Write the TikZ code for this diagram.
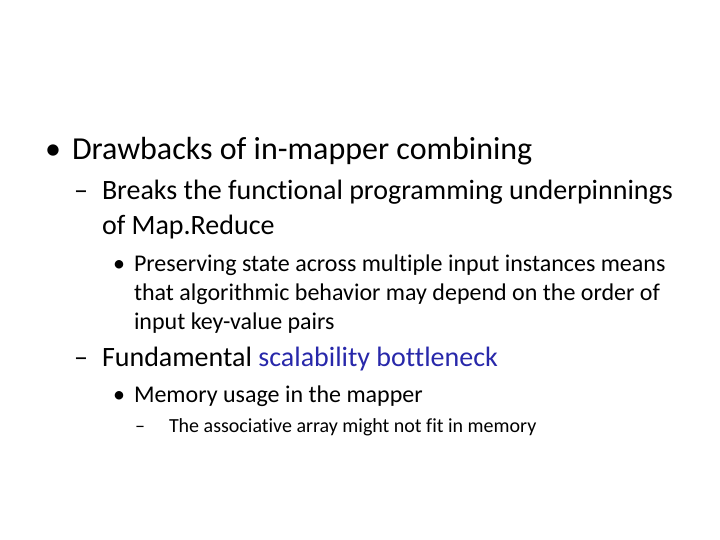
\documentclass[tikz,border=0pt]{standalone}
\usepackage{fontspec}
\setmainfont[Ligatures={NoCommon}]{Carlito}
\definecolor{hl}{RGB}{40,40,170}
\begin{document}
\begin{tikzpicture}[x=1pt,y=-1pt,
  t/.style={anchor=base west,inner sep=0pt,outer sep=0pt},
  la/.style={t,font=\fontsize{32}{36}\selectfont},
  lb/.style={t,font=\fontsize{28}{32}\selectfont},
  lc/.style={t,font=\fontsize{24}{28}\selectfont},
  ld/.style={t,font=\fontsize{20}{24}\selectfont}]
\useasboundingbox (0,0) rectangle (720,540);
\node[la] (b1) at (45,160) {•};
\node[la] (t1) at (72,160) {Drawbacks of in-mapper combining};
\node[lb] (b2) at (74,200) {–};
\node[lb] (t2) at (102,200) {Breaks the functional programming underpinnings};
\node[lb] (t2b) at (102,234) {of Map.Reduce};
\node[lc] (b3) at (113,271) {•};
\node[lc] (t3) at (134,271) {Preserving state across multiple input instances means};
\node[lc] (t3b) at (134,300) {that algorithmic behavior may depend on the order of};
\node[lc] (t3c) at (134,329) {input key-value pairs};
\node[lb] (b4) at (74,366) {–};
\node[lb] (t4) at (102,366) {Fundamental \textcolor{hl}{scalability bottleneck}};
\node[lc] (b5) at (113,402) {•};
\node[lc] (t5) at (134,402) {Memory usage in the mapper};
\node[ld] (b6) at (135,432) {–};
\node[ld] (t6) at (169,432) {The associative array might not fit in memory};
\end{tikzpicture}
\end{document}
